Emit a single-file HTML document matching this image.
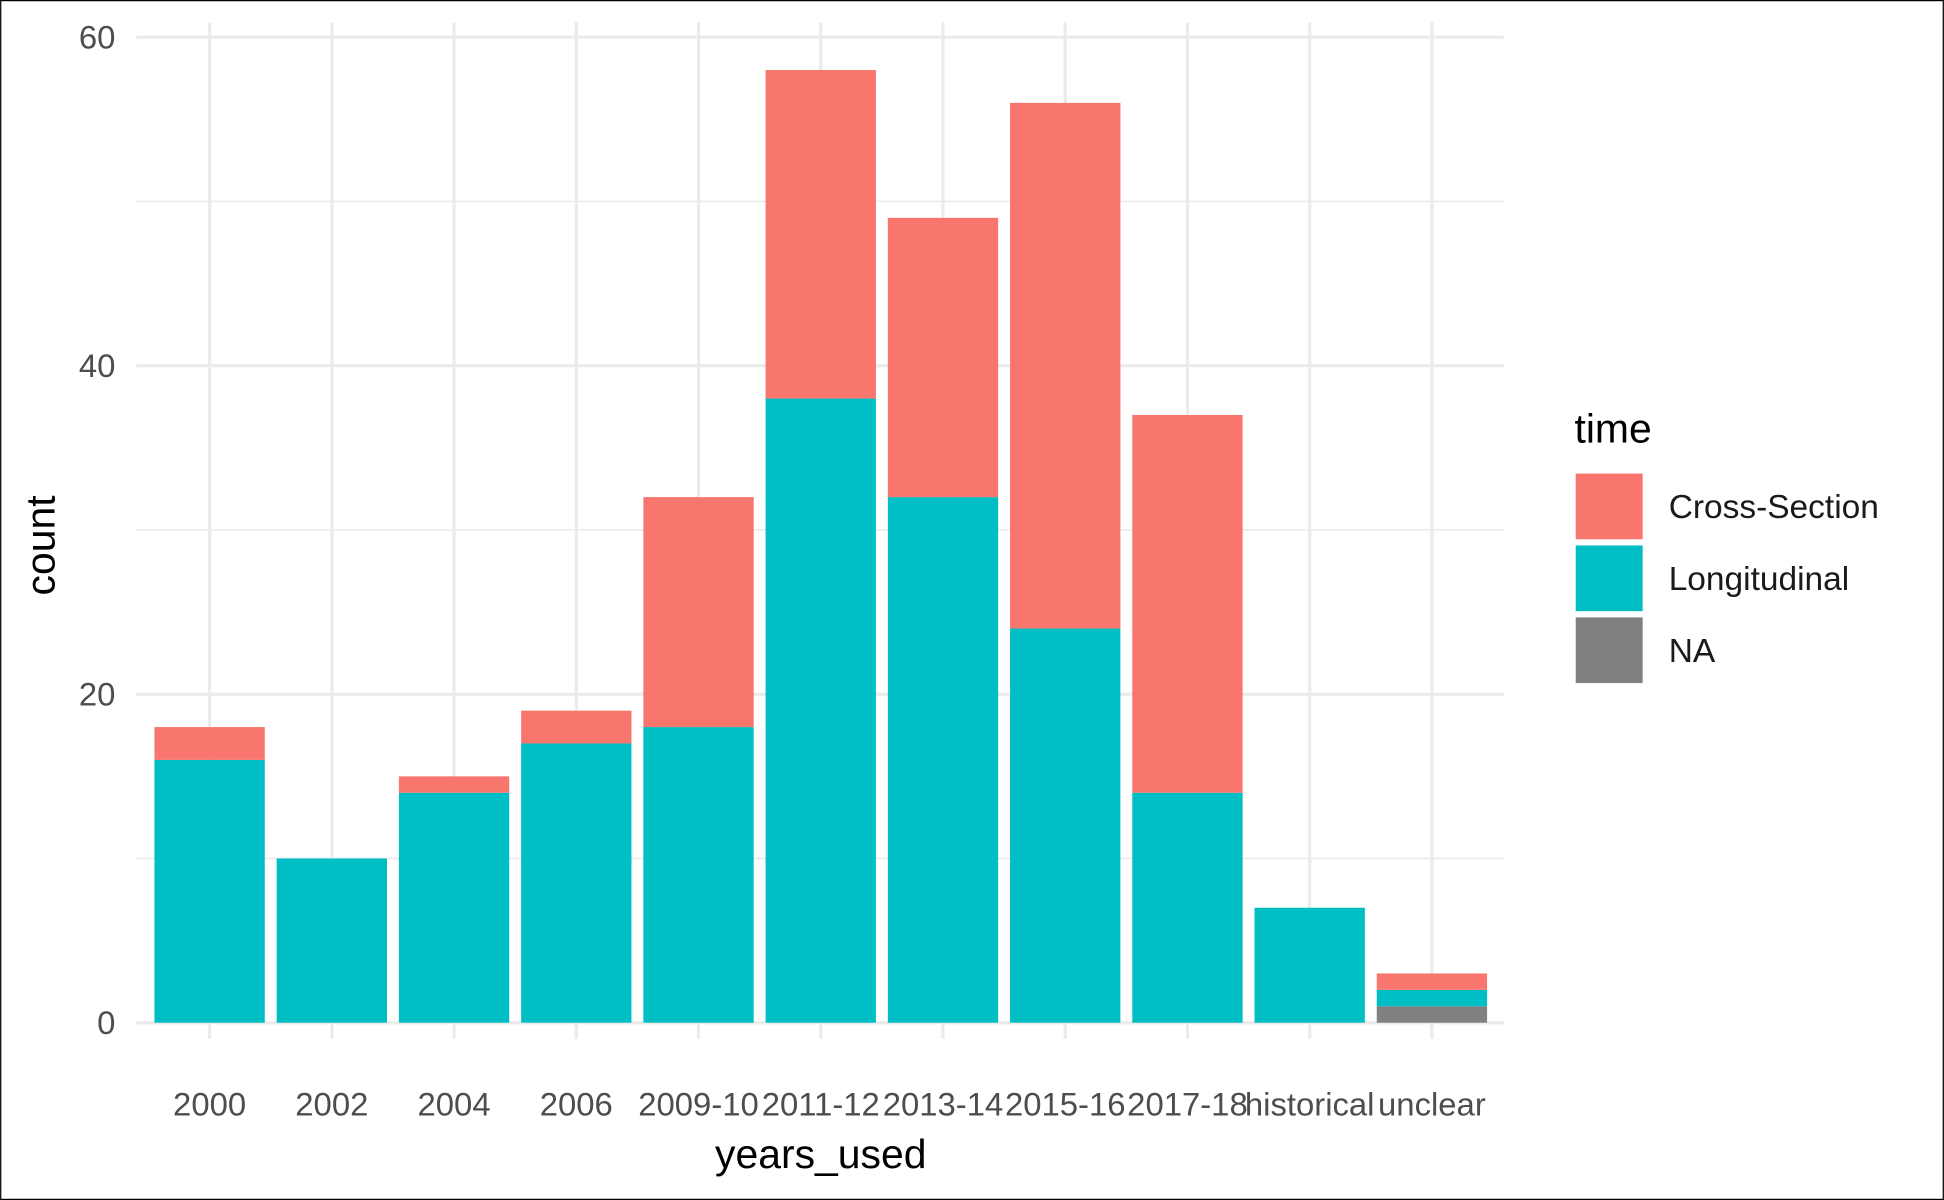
<!DOCTYPE html>
<html><head><meta charset="utf-8"><style>
html,body{margin:0;padding:0;background:#fff;}
svg{display:block;font-family:"Liberation Sans",Arial,sans-serif;}
</style></head><body>
<svg id="chart" width="1944" height="1200" viewBox="0 0 1568 968" xmlns="http://www.w3.org/2000/svg">
<rect x="0.5" y="0.5" width="1567" height="967" fill="#fff" stroke="#000" stroke-width="1"/>
<g id="grid"></g>
<g id="bars"></g>
<g id="xticks"></g>
<g id="yticks"></g>
<text x="662" y="942" font-size="33" text-anchor="middle" fill="#000">years_used</text>
<text transform="translate(44,440) rotate(-90)" font-size="33" text-anchor="middle" fill="#000">count</text>
<g>
<text x="1270" y="357" font-size="33" fill="#000">time</text>
<rect x="1271" y="382" width="54" height="53" fill="#F8766D"/>
<text x="1346" y="418" font-size="27" fill="#1a1a1a">Cross-Section</text>
<rect x="1271" y="440" width="54" height="53" fill="#00BFC4"/>
<text x="1346" y="476" font-size="27" fill="#1a1a1a">Longitudinal</text>
<rect x="1271" y="498" width="54" height="53" fill="#808080"/>
<text x="1346" y="534" font-size="27" fill="#1a1a1a">NA</text>
</g>
</svg>
<script>
const categories = ["2000","2002","2004","2006","2009-10","2011-12","2013-14","2015-16","2017-18","historical","unclear"];
const naValues = [0,0,0,0,0,0,0,0,0,0,1];
const longitudinalValues = [16,10,14,17,18,38,32,24,14,7,1];
const crossSectionValues = [2,0,1,2,14,20,17,32,23,0,1];
const yTicks = [0,20,40,60];
const yMinor = [10,30,50];

const NS="http://www.w3.org/2000/svg";
const panelL=110, panelR=1213;
const y0=825, pxPerUnit=(825-30)/60;
const yScale=v=>y0-v*pxPerUnit;
const step=(1155-169)/(categories.length-1);
const xScale=i=>169+i*step;
const barW=89;
function mk(tag,attrs,parent){const e=document.createElementNS(NS,tag);for(const k in attrs)e.setAttribute(k,attrs[k]);parent.appendChild(e);return e;}
const grid=document.getElementById('grid'),bars=document.getElementById('bars'),xt=document.getElementById('xticks'),yt=document.getElementById('yticks');
yMinor.forEach(v=>{const l=mk('line',{x1:panelL,x2:panelR,y1:yScale(v),y2:yScale(v),stroke:'#ebebeb','stroke-width':1.3},grid);

});
yTicks.forEach(v=>{const l=mk('line',{x1:panelL,x2:panelR,y1:yScale(v),y2:yScale(v),stroke:'#ebebeb','stroke-width':2.6},grid);


const t=mk('text',{x:93,y:yScale(v)+9,'font-size':26.5,'text-anchor':'end',fill:'#4d4d4d'},yt);t.textContent=v;

});
categories.forEach((c,i)=>{const x=xScale(i);
const l=mk('line',{x1:x,x2:x,y1:18,y2:838,stroke:'#ebebeb','stroke-width':2.6},grid);


const t=mk('text',{x:x,y:900,'font-size':26.5,'text-anchor':'middle',fill:'#4d4d4d'},xt);t.textContent=c;


let base=0;
[[naValues,'#808080','na'],[longitudinalValues,'#00BFC4','longitudinal'],[crossSectionValues,'#F8766D','cross-section']].forEach(([arr,col,nm])=>{
const v=arr[i];if(v>0){const r=mk('rect',{x:x-barW/2,y:yScale(base+v),width:barW,height:v*pxPerUnit,fill:col},bars);

}
base+=v;});
});
</script>
</body></html>
